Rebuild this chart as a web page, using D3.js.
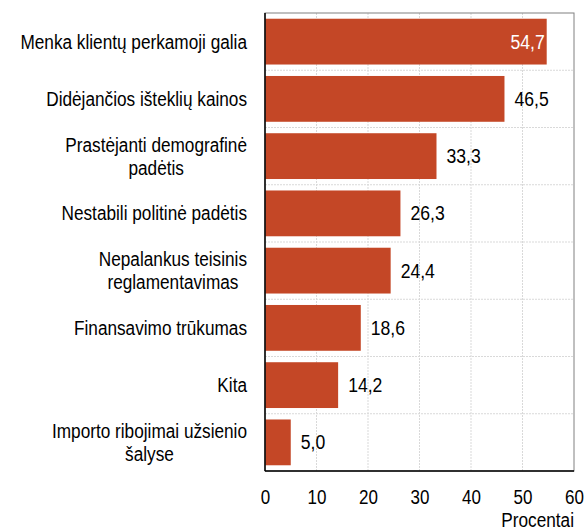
<!DOCTYPE html>
<html>
<head>
<meta charset="utf-8">
<script src="https://cdn.jsdelivr.net/npm/d3@7"></script>
<style>
  body { margin: 0; background: #fff; }
  text { font-family: "Liberation Sans", Arial, sans-serif; font-size: 20px; }
</style>
</head>
<body>
<div id="chart"></div>
<script>
// data
var categories = [
    ["Menka klientų perkamoji galia"],
    ["Didėjančios išteklių kainos"],
    ["Prastėjanti demografinė", "padėtis"],
    ["Nestabili politinė padėtis"],
    ["Nepalankus teisinis", "reglamentavimas"],
    ["Finansavimo trūkumas"],
    ["Kita"],
    ["Importo ribojimai užsienio", "šalyse"]
];
var values = [54.7, 46.5, 33.3, 26.3, 24.4, 18.6, 14.2, 5.0];
var xTicks = [0, 10, 20, 30, 40, 50, 60];
var axisTitle = "Procentai";

var margin = { top: 13, right: 11, bottom: 61, left: 265 },
    width = 585 - margin.left - margin.right,
    height = 532 - margin.top - margin.bottom;

// the original font is a narrow one, squeeze Liberation Sans to match
function squeeze(sel, k) {
    sel.each(function () {
        var w = this.getComputedTextLength();
        d3.select(this).attr("textLength", w * k).attr("lengthAdjust", "spacingAndGlyphs");
    });
}

var svg = d3.select("#chart")
    .append("svg")
    .attr("width", 585)
    .attr("height", 532)
    .append("g")
    .attr("transform", "translate(" + margin.left + "," + margin.top + ")");

var x = d3.scaleLinear().domain([0, 60]).range([0, width]);
var y = d3.scaleBand().domain(d3.range(categories.length)).range([0, height]).paddingInner(0.2).paddingOuter(0.1);
var step = y.step();

// grid
svg.append("g")
    .selectAll("line")
    .data(xTicks.slice(1, -1))
    .enter()
    .append("line")
    .attr("x1", d => x(d)).attr("x2", d => x(d))
    .attr("y1", 0).attr("y2", height)
    .attr("stroke", "#d9d9d9")
    .attr("stroke-dasharray", "2,1");

svg.append("g")
    .selectAll("line")
    .data(d3.range(1, categories.length))
    .enter()
    .append("line")
    .attr("x1", 0).attr("x2", width)
    .attr("y1", d => d * step).attr("y2", d => d * step)
    .attr("stroke", "#d9d9d9")
    .attr("stroke-dasharray", "2,1");

// bars
svg.append("g")
    .selectAll("rect")
    .data(values)
    .enter()
    .append("rect")
    .attr("x", 0)
    .attr("y", (d, i) => y(i))
    .attr("width", d => x(d))
    .attr("height", y.bandwidth())
    .attr("fill", "#c44726");

// value labels
var valLabels = svg.append("g")
    .selectAll("text")
    .data(values)
    .enter()
    .append("text")
    .attr("x", (d, i) => i == 0 ? x(d) - 2 : x(d) + 10)
    .attr("y", (d, i) => y(i) + y.bandwidth() / 2)
    .attr("dy", "0.35em")
    .attr("text-anchor", (d, i) => i == 0 ? "end" : "start")
    .attr("fill", (d, i) => i == 0 ? "#fff" : "#000")
    .text(d => d.toFixed(1).replace(".", ","));
squeeze(valLabels, 0.88);

// frame
svg.append("rect")
    .attr("width", width).attr("height", height)
    .attr("fill", "none").attr("stroke", "#808080").attr("stroke-width", 1);
svg.append("line").attr("x1", 0).attr("x2", 0).attr("y1", 0).attr("y2", height).attr("stroke", "#000").attr("stroke-width", 1.5);
svg.append("line").attr("x1", 0).attr("x2", width).attr("y1", height).attr("y2", height).attr("stroke", "#000").attr("stroke-width", 1.5);

// x axis labels
var xAxis = svg.append("g")
    .attr("transform", "translate(0," + height + ")")
    .call(d3.axisBottom(x).tickValues(xTicks).tickSize(0).tickPadding(19));
xAxis.select(".domain").remove();
xAxis.attr("font-size", null).attr("font-family", null);
xAxis.selectAll("text").attr("fill", "#000");
squeeze(xAxis.selectAll("text"), 0.85);

var title = svg.append("text")
    .attr("x", width)
    .attr("y", height + 56)
    .attr("text-anchor", "end")
    .text(axisTitle);
squeeze(title, 0.86);

// category labels, lines centred on each other, block right aligned
var lineH = 23;
categories.forEach(function (lines, i) {
    var g = svg.append("g");
    var texts = lines.map(function (l, j) {
        return g.append("text")
            .attr("y", y(i) + y.bandwidth() / 2 + (j - (lines.length - 1) / 2) * lineH)
            .attr("dy", "0.35em")
            .attr("text-anchor", "middle")
            .text(l);
    });
    texts.forEach(t => squeeze(t, 0.86));
    var maxW = d3.max(texts, t => +t.attr("textLength"));
    texts.forEach(t => t.attr("x", -18 - maxW / 2));
});
</script>
</body>
</html>
